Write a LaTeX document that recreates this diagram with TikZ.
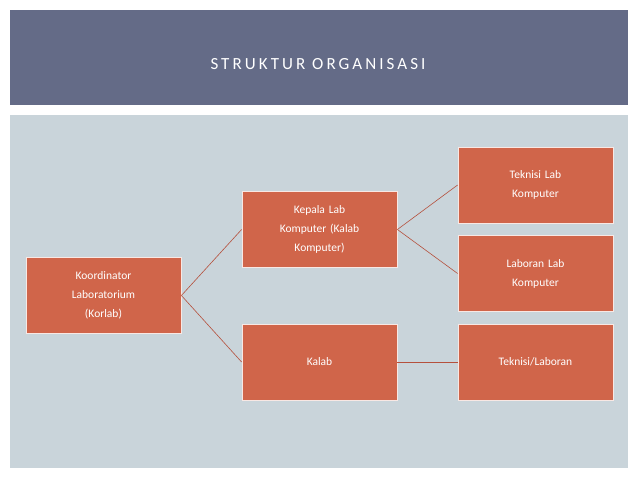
\documentclass[tikz,border=0pt]{standalone}
\usepackage{fontspec}
\setmainfont{Carlito}
\definecolor{banner}{HTML}{646B87}
\definecolor{pale}{HTML}{C9D4DA}
\definecolor{boxc}{HTML}{D0654A}
\definecolor{linec}{HTML}{B5503C}
\tikzset{
  box/.style={draw=white!85!boxc, line width=0.8pt, fill=boxc, minimum width=155pt, minimum height=76pt, text width=140pt, align=center, text=white, font=\fontsize{11.5}{19}\selectfont},
  conn/.style={draw=linec, line width=0.6pt}
}
\begin{document}
\begin{tikzpicture}[x=1pt,y=-1pt]
\useasboundingbox (0,0) rectangle (638,479);
\fill[white] (0,0) rectangle (638,479);
\fill[banner] (10,10) rectangle (628,105);
\fill[pale] (10,115) rectangle (628,468);
\node[text=white, font=\fontsize{17}{20}\selectfont\addfontfeatures{LetterSpace=18}] (title) at (318,64) {STRUKTUR ORGANISASI};
\node[box] (korlab) at (103.5,295.5) {Koordinator\\Laboratorium\\(Korlab)};
\node[box] (kepala) at (319.5,229.5) {Kepala Lab\\Komputer (Kalab\\Komputer)};
\node[box] (kalab) at (319.5,362) {Kalab};
\node[box] (teknisi) at (535.5,185) {Teknisi Lab\\Komputer};
\node[box] (laboran) at (535.5,273.5) {Laboran Lab\\Komputer};
\node[box] (tl) at (535.5,362) {Teknisi/Laboran};
\draw[conn] (korlab.east) -- (kepala.west);
\draw[conn] (korlab.east) -- (kalab.west);
\draw[conn] (kepala.east) -- (teknisi.west);
\draw[conn] (kepala.east) -- (laboran.west);
\draw[conn] (kalab.east) -- (tl.west);
\end{tikzpicture}
\end{document}
